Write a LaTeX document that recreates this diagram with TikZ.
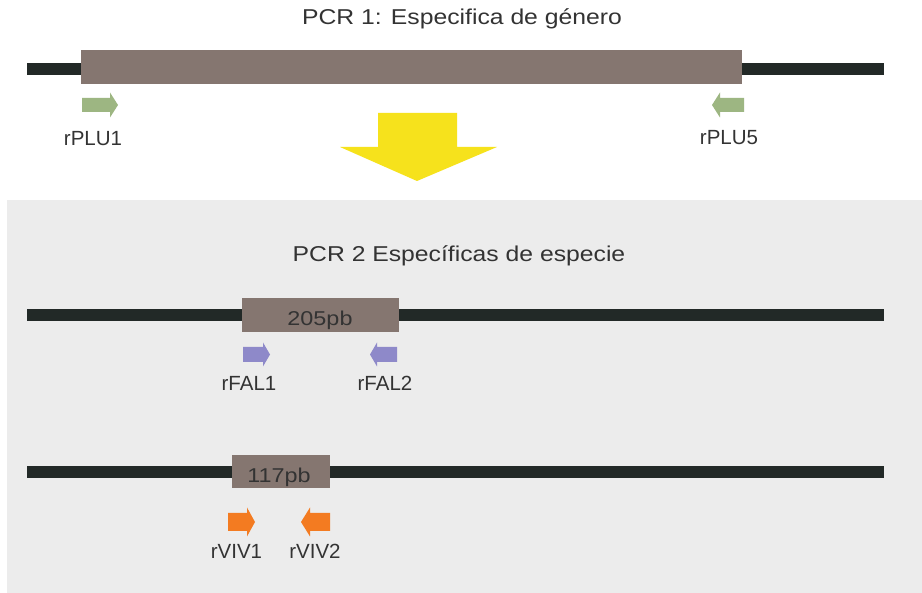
\documentclass[tikz,border=0pt]{standalone}
\usepackage{fontspec}
\setmainfont{Liberation Sans}
\definecolor{dna}{HTML}{222927}
\definecolor{amp}{HTML}{857670}
\definecolor{pgreen}{HTML}{9DB682}
\definecolor{ppurple}{HTML}{8E89C9}
\definecolor{porange}{HTML}{F37B21}
\definecolor{pyellow}{HTML}{F6E21C}
\definecolor{panel}{HTML}{ECECEC}
\definecolor{txt}{HTML}{333333}
\tikzset{
  pics/primer/.style n args={4}{code={%
    \fill[pic actions] (0,-#3/2) -- (#1,-#3/2) -- (#1,-#4/2) -- (#1+#2,0) -- (#1,#4/2) -- (#1,#3/2) -- (0,#3/2) -- cycle;}},
  strand/.style={line width=12.5pt, draw=dna},
  ampbox/.style={fill=amp, draw=none, inner sep=0pt, text=txt},
  title/.style={text=txt, font=\fontsize{21.5}{24}\selectfont, xscale=1.15, inner sep=0pt, anchor=base},
  lbl/.style={text=txt, font=\fontsize{20.5}{24}\selectfont, inner sep=0pt, anchor=base},
  boxtxt/.style={text=txt, font=\fontsize{20}{24}\selectfont, xscale=1.17, inner sep=0pt, anchor=base}
}
\begin{document}
\begin{tikzpicture}[x=1pt,y=-1pt]
\useasboundingbox (0,0) rectangle (922,593);
\fill[white] (0,0) rectangle (922,593);
\fill[panel] (7,200) rectangle (922,593);

% PCR 1
\node[title] (t1) at (462,25) {PCR 1: Especifica de género};
\coordinate (l1a) at (27,69);
\coordinate (l1b) at (884,69);
\draw[strand] (l1a) -- (l1b);
\node[ampbox, minimum width=661pt, minimum height=34pt] (b1) at (411.5,67) {};
\pic[fill=pgreen] (p1) at (82,105) {primer={28}{8}{14}{25}};
\pic[fill=pgreen, xscale=-1] (p5) at (744,105) {primer={24}{8}{14}{25}};
\node[lbl] (rplu1) at (93,146) {rPLU1};
\node[lbl] (rplu5) at (729,145) {rPLU5};

% yellow arrow
\fill[pyellow] (378,113) -- (457,113) -- (457,147) -- (497,147) -- (417,181) -- (340,147) -- (378,147) -- cycle;

% PCR 2
\node[title] (t2) at (459,262) {PCR 2 Específicas de especie};
\coordinate (l2a) at (27,315);
\coordinate (l2b) at (884,315);
\draw[strand] (l2a) -- (l2b);
\node[ampbox, minimum width=157pt, minimum height=34pt] (b2) at (320.5,315) {};
\node[boxtxt] (t205) at (320,326) {205pb};
\pic[fill=ppurple] (f1) at (243,354.5) {primer={20}{7}{15}{24}};
\pic[fill=ppurple, xscale=-1] (f2) at (397,354.5) {primer={20}{7}{15}{24}};
\node[lbl] (rfal1) at (249,391) {rFAL1};
\node[lbl] (rfal2) at (385,391) {rFAL2};

\coordinate (l3a) at (27,472);
\coordinate (l3b) at (884,472);
\draw[strand] (l3a) -- (l3b);
\node[ampbox, minimum width=98pt, minimum height=33pt] (b3) at (281,471.5) {};
\node[boxtxt] (t117) at (279,483) {117pb};
\pic[fill=porange] (v1) at (228,522) {primer={19}{8}{18}{29}};
\pic[fill=porange, xscale=-1] (v2) at (330,522) {primer={20}{9}{18}{29}};
\node[lbl] (rviv1) at (236.5,559) {rVIV1};
\node[lbl] (rviv2) at (315,559) {rVIV2};
\end{tikzpicture}
\end{document}
